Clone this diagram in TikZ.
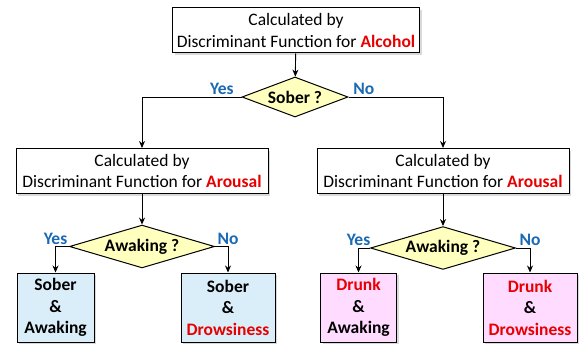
\documentclass[tikz,border=0pt]{standalone}
\usepackage{fontspec}
\setmainfont{Carlito}
\usetikzlibrary{shapes.geometric,arrows.meta,shadows}
\definecolor{alertred}{RGB}{230,0,0}
\definecolor{ansblue}{RGB}{25,105,180}
\definecolor{qfill}{RGB}{255,255,190}
\definecolor{soberfill}{RGB}{218,238,250}
\definecolor{drunkfill}{RGB}{255,220,255}
\newcommand\hot[1]{\textcolor{alertred}{\textbf{#1}}}

\begin{document}
\begin{tikzpicture}[x=1pt,y=-1pt,font=\fontsize{17.5}{21.5}\selectfont,
  calcbox/.style={draw,line width=1pt,fill=white,align=center,
    minimum width=250,minimum height=45,inner sep=1pt,
    drop shadow={shadow xshift=2pt,shadow yshift=-2pt,opacity=0.3}},
  askbox/.style={diamond,draw,line width=1pt,fill=qfill,inner sep=0pt,
    aspect=2.7,minimum width=106,minimum height=40,font=\fontsize{17.5}{21}\selectfont\bfseries},
  leafbox/.style={draw,line width=1pt,align=center,minimum width=77,
    minimum height=69,inner sep=0pt,font=\fontsize{17.5}{21.5}\selectfont\bfseries,
    drop shadow={shadow xshift=2pt,shadow yshift=-2pt,opacity=0.3}},
  yesno/.style={text=ansblue,font=\fontsize{17.5}{21}\selectfont\bfseries,inner sep=1.5pt},
  arr/.style={-{Stealth[length=7pt,width=6pt]},line width=0.9pt}]
\useasboundingbox (0,0) rectangle (579,345);

% top level
\node[calcbox,minimum width=247] (alc) at (296,30.5) {Calculated by\\Discriminant Function for \hot{Alcohol}};
\node[askbox] (sober) at (295,97) {Sober ?};

% second level
\node[calcbox,minimum width=252] (aroL) at (142,171) {Calculated by\\Discriminant Function for \hot{Arousal}};
\node[calcbox,minimum width=252] (aroR) at (443,171) {Calculated by\\Discriminant Function for \hot{Arousal}};
\node[askbox,minimum width=145,minimum height=41] (awL) at (142,246.5) {Awaking ?};
\node[askbox,minimum width=145,minimum height=41] (awR) at (443,248) {Awaking ?};

% leaves
\node[leafbox,fill=soberfill] (sa) at (55.5,307.5) {Sober\\\&\\Awaking};
\node[leafbox,fill=soberfill,minimum width=94] (sd) at (228,307.5) {Sober\\\&\\\hot{Drowsiness}};
\node[leafbox,fill=drunkfill,minimum width=76] (da) at (358.5,307.5) {\hot{Drunk}\\\&\\Awaking};
\node[leafbox,fill=drunkfill,minimum width=94] (dd) at (530,307.5) {\hot{Drunk}\\\&\\\hot{Drowsiness}};

% connectors
\draw[arr] (alc) -- (sober);
\draw[arr] (sober.west) node[yesno,above left,xshift=-6pt] {Yes} -| (aroL.north);
\draw[arr] (sober.east) node[yesno,above right,xshift=3pt] {No} -| (aroR.north);
\draw[arr] (aroL) -- (awL);
\draw[arr] (aroR) -- (awR);
\draw[arr] (awL.west) -| node[yesno,above] {Yes} (sa.north);
\draw[arr] (awL.east) -| node[yesno,above] {No} (sd.north);
\draw[arr] (awR.west) -| node[yesno,above] {Yes} (da.north);
\draw[arr] (awR.east) -| node[yesno,above] {No} (dd.north);
\end{tikzpicture}
\end{document}
